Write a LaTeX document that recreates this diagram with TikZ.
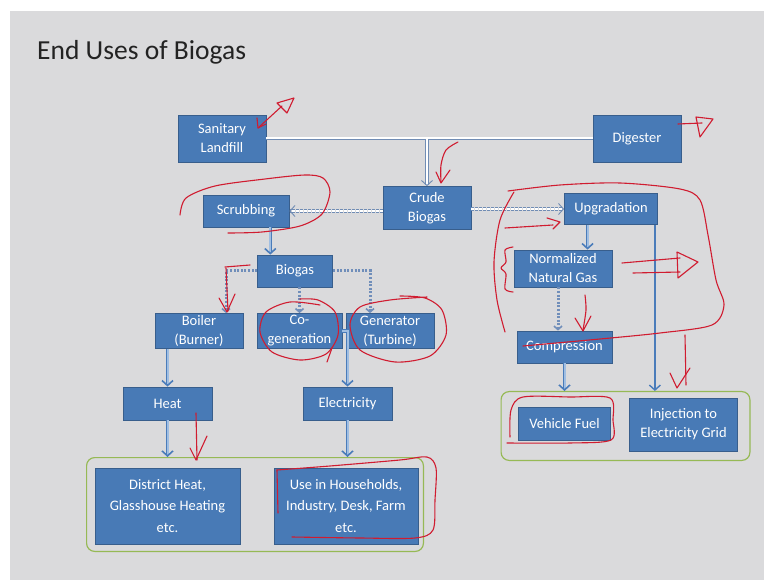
\documentclass[tikz,border=0pt]{standalone}
\usepackage{fontspec}
\setmainfont{Carlito}
\usepackage{tikz}
\usetikzlibrary{positioning, arrows.meta, calc, fit}
\definecolor{slide}{RGB}{218,218,220}
\definecolor{boxblue}{RGB}{72,122,182}
\definecolor{boxedge}{RGB}{56,94,140}
\definecolor{flowblue}{RGB}{74,124,186}
\definecolor{flowfill}{RGB}{160,190,226}
\definecolor{dotblue}{RGB}{112,142,186}
\definecolor{pipegray}{RGB}{112,140,180}
\definecolor{framegreen}{RGB}{150,185,85}
\definecolor{ink}{RGB}{208,28,48}
\definecolor{titleink}{RGB}{35,35,35}
\tikzstyle{box} = [rectangle, fill=boxblue, draw=boxedge, line width=0.8pt, text=white, align=center, inner sep=0pt, font=\fontsize{14.5}{19}\selectfont]
\tikzstyle{tallbox} = [box, font=\fontsize{14.5}{21.5}\selectfont]
\tikzstyle{frame} = [draw=framegreen, line width=1.2pt, rounded corners=8pt, inner sep=0pt]
\tikzstyle{arrow} = [draw=flowblue, double=flowfill, line width=0.8pt, double distance=2pt, -{Straight Barb[length=5pt,width=11pt,line width=1.6pt]}]
\tikzstyle{thinarrow} = [draw=flowblue, line width=1.4pt, -{Straight Barb[length=5pt,width=11pt]}]
\tikzstyle{dotarrow} = [draw=dotblue, line width=3pt, dash pattern=on 2pt off 1.6pt, -{Straight Barb[length=3.5pt,width=8pt,line width=1.6pt]}]
\tikzstyle{pipe} = [draw=pipegray, double=white, line width=0.9pt, double distance=2pt]
\tikzstyle{hollowarrow} = [pipe, -{Straight Barb[length=5pt,width=11pt]}]
\tikzstyle{hollowdash} = [pipe, double distance=2.4pt, dash pattern=on 3pt off 1pt, -{Straight Barb[length=5pt,width=11pt]}]
\tikzstyle{scribble} = [draw=ink, line width=1.1pt, line cap=round, line join=round]

\begin{document}
\begin{tikzpicture}[x=1pt, y=-1pt, node distance=60pt]
\useasboundingbox (0,0) rectangle (764,580);
\fill [white] (0,0) rectangle (764,580);
\fill [slide] (10,11) rectangle (764,580);
\node (title) [anchor=base west, inner sep=0pt, text=titleink, font=\fontsize{27.5}{33}\selectfont] at (37,60) {End Uses of Biogas};

% sources
\node (landfill) [box, minimum width=88pt, minimum height=47pt] at (222,138.5) {Sanitary\\Landfill};
\node (digester) [box, minimum width=88pt, minimum height=47pt, right of=landfill, node distance=415pt] {Digester};
\node (crude_biogas) [box, minimum width=88pt, minimum height=43pt, below of=landfill, node distance=69.5pt, xshift=205pt] {Crude\\Biogas};

% treatment
\node (scrubbing) [box, minimum width=86pt, minimum height=32pt, left of=crude_biogas, node distance=181pt, yshift=-3pt] {Scrubbing};
\node (upgradation) [box, minimum width=93pt, minimum height=31pt, right of=crude_biogas, node distance=184pt, yshift=-1pt] {Upgradation};
\node (biogas) [box, minimum width=75pt, minimum height=32pt, below of=scrubbing, xshift=49pt] {Biogas};
\node (natural_gas) [box, minimum width=98pt, minimum height=37pt, below of=upgradation, node distance=59.5pt, xshift=-48pt] {Normalized\\Natural Gas};
\node (compression) [box, minimum width=95pt, minimum height=32pt, below of=natural_gas, node distance=78.5pt, xshift=1.5pt] {Compression};

% conversion
\node (boiler) [box, minimum width=88pt, minimum height=35pt, below of=biogas, xshift=-96pt] {Boiler\\(Burner)};
\node (cogen) [box, minimum width=85pt, minimum height=35pt, below of=biogas, xshift=4.5pt] {Co-\\generation};
\node (generator) [box, minimum width=88pt, minimum height=35pt, below of=biogas, xshift=95pt] {Generator\\(Turbine)};
\node (heat) [box, minimum width=89pt, minimum height=33pt, below of=boiler, node distance=72.5pt, xshift=-31.5pt] {Heat};
\node (electricity) [box, minimum width=89pt, minimum height=33pt, right of=heat, node distance=180pt] {Electricity};

% end uses
\node (district_heat) [tallbox, minimum width=145pt, minimum height=76pt, below of=heat, node distance=102.5pt] {District Heat,\\Glasshouse Heating\\etc.};
\node (household_use) [tallbox, minimum width=144pt, minimum height=76pt, below of=electricity, node distance=102.5pt, xshift=-1.5pt] {Use in Households,\\Industry, Desk, Farm\\etc.};
\node (vehicle_fuel) [box, minimum width=92pt, minimum height=33pt, below of=compression, node distance=76.5pt] {Vehicle Fuel};
\node (grid_injection) [box, minimum width=108pt, minimum height=53pt, right of=vehicle_fuel, node distance=119pt, yshift=-1pt] {Injection to\\Electricity Grid};
\node (home_uses) [frame, fit={($(district_heat.north west)+(-8,-10)$) ($(household_use.south east)+(5,7)$)}] {};
\node (gas_uses) [frame, fit={($(vehicle_fuel.north west)+(-17,-15)$) ($(grid_injection.south east)+(12,9)$)}] {};

\coordinate (scrub_out) at ($(scrubbing.south)!0.56!(scrubbing.south east)$);
\coordinate (boiler_in) at ($(boiler.north)+(27,0)$);
\coordinate (turbine_in) at ($(generator.north)+(-20,0)$);
\coordinate (upgrade_out) at ($(upgradation.south west)!0.25!(upgradation.south east)$);
\coordinate (gas_out) at ($(natural_gas.south)+(-5,0)$);
\coordinate (grid_out) at ($(upgradation.south east)+(-3,0)$);

\draw [pipe] (landfill.east) -- (digester.west);
\draw [hollowarrow] ($(crude_biogas.north |- landfill.east)+(0,1)$) -- (crude_biogas.north);
\draw [hollowdash] (crude_biogas.west |- scrubbing.east) -- (scrubbing.east);
\draw [hollowdash] (crude_biogas.east |- upgradation.west) -- (upgradation.west);
\draw [arrow] (scrub_out) -- (scrub_out |- biogas.north);
\draw [dotarrow] (biogas.west) -| (boiler_in);
\draw [dotarrow] (cogen.north |- biogas.south) -- (cogen.north);
\draw [dotarrow] (biogas.east) -| (turbine_in);
\draw [arrow] (cogen.east) -| (electricity.north);
\draw [arrow] (heat.north |- boiler.south) -- (heat.north);
\draw [arrow] (heat.south) -- (heat.south |- home_uses.north);
\draw [arrow] (electricity.south) -- (electricity.south |- home_uses.north);
\draw [arrow] (upgrade_out) -- (upgrade_out |- natural_gas.north);
\draw [dotarrow] (gas_out) -- (gas_out |- compression.north);
\draw [thinarrow] (grid_out) -- (grid_out |- gas_uses.north);
\draw [arrow] (compression.south) -- (compression.south |- gas_uses.north);

% hand annotations
\draw [scribble] (257,118) -- (258,128) -- (266,124);
\draw [scribble] (258,128) -- (282,106);
\draw [scribble] (277,103) -- (294,98) -- (287,113) -- cycle;
\draw [scribble] (678,124) -- (702,123);
\draw [scribble] (696,117) -- (713,119) -- (700,137) -- cycle;
\draw [scribble] plot [smooth] coordinates {(458,142) (446,150) (441,165) (441,182)};
\draw [scribble] (436,172) -- (441,183) -- (450,170);
\draw [scribble] plot [smooth] coordinates {(180,215) (186,198) (215,186) (265,179) (305,175) (323,178) (330,192) (322,214) (300,226) (262,232) (228,233)};
\draw [scribble] plot [smooth] coordinates {(508,191) (560,185) (620,183) (680,189) (700,200) (708,235) (716,280) (724,305) (712,325) (660,333) (600,339) (523,346)};
\draw [scribble] plot [smooth] coordinates {(514,192) (500,220) (494,262) (497,300) (505,332)};
\draw [scribble] (505,228) -- (553,225);
\draw [scribble] (547,218) -- (560,222) -- (553,229);
\draw [scribble] plot [smooth] coordinates {(513,247) (505,250) (506,262) (501,268) (506,274) (505,289) (513,292)};
\draw [scribble] (622,263) -- (680,258);
\draw [scribble] (633,273) -- (680,272);
\draw [scribble] (677,252) -- (698,262) -- (678,278) -- cycle;
\draw [scribble] plot [smooth] coordinates {(585,295) (586,310) (583,330)};
\draw [scribble] (575,318) -- (583,331) -- (591,316);
\draw [scribble] (685,335) -- (686,385);
\draw [scribble] (670,373) -- (677,388) -- (690,368);
\draw [scribble] plot [smooth] coordinates {(510,437) (511,410) (523,397) (570,397) (610,398) (613,420) (611,440) (570,443) (507,443)};
\draw [scribble] (225,267) -- (250,265);
\draw [scribble] (226,268) -- (228,311);
\draw [scribble] (219,298) -- (227,312) -- (235,294);
\draw [scribble] plot [smooth] coordinates {(320,305) (290,302) (266,312) (260,332) (272,352) (300,360) (326,354) (338,335) (335,312) (318,300) (300,299)};
\draw [scribble] (332,348) -- (327,362);
\draw [scribble] plot [smooth] coordinates {(427,297) (390,300) (360,307) (350,325) (360,350) (395,362) (430,356) (446,335) (442,310) (425,298) (400,296)};
\draw [scribble] (196,413) -- (197,460);
\draw [scribble] (190,448) -- (196,460) -- (207,436);
\draw [scribble] (277,470) -- (278,513);
\draw [scribble] plot [smooth] coordinates {(277,470) (330,466) (400,460) (427,457) (436,468) (435,500) (433,530) (415,538) (360,538) (292,537)};
\end{tikzpicture}
\end{document}
